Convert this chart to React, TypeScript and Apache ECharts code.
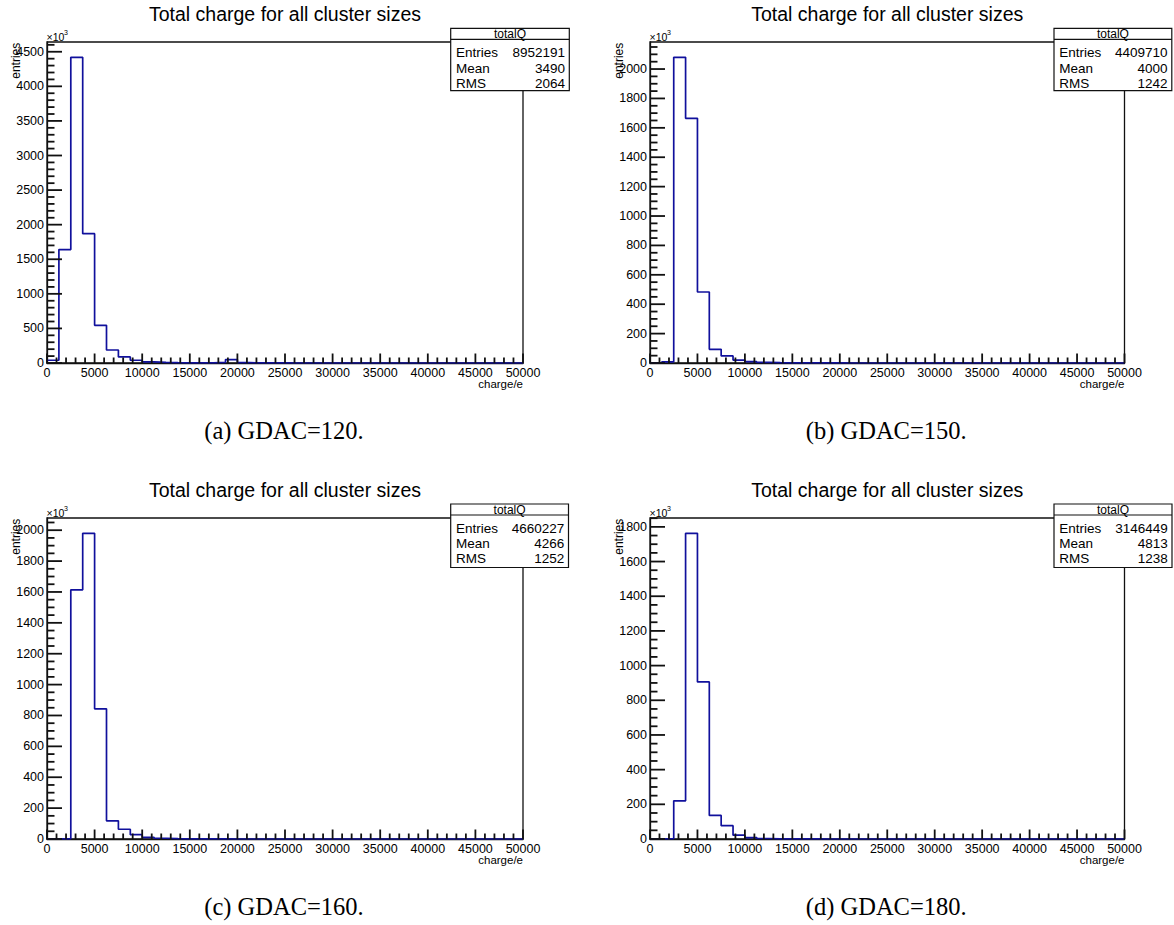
import React, { useEffect, useRef } from "react";
import * as echarts from "echarts";

// ---- data (entries per bin, in units of 10^3) ----
const binWidth = 1250;
const xMin = 0;
const xMax = 50000;
const xInterval = 5000;
const xMinorStep = 1000;

const countsGdac120 = [40, 1640, 4420, 1870, 545, 188, 88, 40, 16, 8, 5, 3, 2, 2, 8, 50, 5, 1, 0.5, 0.5, 0, 0, 0, 0, 0, 0, 0, 0, 0, 0, 0, 0, 0, 0, 0, 0, 0, 0, 0, 0];
const countsGdac150 = [1, 8, 2080, 1665, 483, 93, 48, 20, 9, 4, 2, 1, 0.5, 0.5, 0.3, 0.2, 0.1, 0, 0, 0, 0, 0, 0, 0, 0, 0, 0, 0, 0, 0, 0, 0, 0, 0, 0, 0, 0, 0, 0, 0];
const countsGdac160 = [0.5, 0.5, 1614, 1980, 843, 118, 63, 28, 11, 5, 2, 1, 0.5, 0.3, 0.2, 0.1, 0, 0, 0, 0, 0, 0, 0, 0, 0, 0, 0, 0, 0, 0, 0, 0, 0, 0, 0, 0, 0, 0, 0, 0];
const countsGdac180 = [1, 2, 220, 1763, 906, 136, 77, 22, 8, 3, 1, 0.5, 0.3, 0.2, 0.1, 0, 0, 0, 0, 0, 0, 0, 0, 0, 0, 0, 0, 0, 0, 0, 0, 0, 0, 0, 0, 0, 0, 0, 0, 0];

const panelCounts = [countsGdac120, countsGdac150, countsGdac160, countsGdac180];
const panelTitle = "Total charge for all cluster sizes";
const captions = ["(a) GDAC=120.", "(b) GDAC=150.", "(c) GDAC=160.", "(d) GDAC=180."];
const statName = "totalQ";
const statLabels = ["Entries", "Mean", "RMS"];
const entries = [8952191, 4409710, 4660227, 3146449];
const means = [3490, 4000, 4266, 4813];
const rmsValues = [2064, 1242, 1252, 1238];
const yIntervals = [500, 200, 200, 200];
const yMinorSteps = [100, 50, 50, 50];
const xAxisTitle = "charge/e";
const yAxisTitle = "entries";

// ---- layout (pixels) ----
const plots = [
  { left: 47, top: 42, width: 476, height: 321 },
  { left: 650, top: 42, width: 474.5, height: 321 },
  { left: 47, top: 518, width: 476, height: 321 },
  { left: 650, top: 518, width: 474.5, height: 321 },
];
const statBoxes = [
  { x: 450.7, y: 28.4, w: 118.6, h: 62.3 },
  { x: 1054, y: 28.4, w: 117.8, h: 62.3 },
  { x: 450.7, y: 504, w: 117.8, h: 63.5 },
  { x: 1054, y: 504, w: 118, h: 63.5 },
];

const sans = "Liberation Sans, Arial, Helvetica, sans-serif";
const serif = "Liberation Serif, Times New Roman, serif";
const histColor = "#10109c";
const frameColor = "#111111";

function stepData(counts: number[]) {
  const pts: number[][] = counts.map((c, i) => [xMin + i * binWidth, c]);
  pts.push([xMax, counts[counts.length - 1]]);
  return pts;
}

const yMaxOf = (counts: number[]) => Math.max(...counts) * 1.05;

function baseOption() {
  const grid: any[] = [];
  const xAxis: any[] = [];
  const yAxis: any[] = [];
  const series: any[] = [];

  plots.forEach((p, i) => {
    const counts = panelCounts[i];
    grid.push({
      left: p.left,
      top: p.top,
      width: p.width,
      height: p.height,
      show: true,
      borderColor: frameColor,
      borderWidth: 1.3,
      backgroundColor: "transparent",
    });
    xAxis.push({
      type: "value",
      gridIndex: i,
      min: xMin,
      max: xMax,
      interval: xInterval,
      axisLine: { show: true, onZero: false, lineStyle: { color: frameColor, width: 1.3 } },
      axisTick: { show: false },
      minorTick: { show: false },
      splitLine: { show: false },
      axisLabel: {
        color: "#000",
        fontSize: 12.5,
        fontFamily: sans,
        margin: 3,
        showMinLabel: true,
        showMaxLabel: true,
        formatter: (v: number) => String(v),
      },
    });
    yAxis.push({
      type: "value",
      gridIndex: i,
      min: 0,
      max: yMaxOf(counts),
      interval: yIntervals[i],
      axisLine: { show: true, onZero: false, lineStyle: { color: frameColor, width: 1.3 } },
      axisTick: { show: false },
      minorTick: { show: false },
      splitLine: { show: false },
      axisLabel: {
        color: "#000",
        fontSize: 12.5,
        fontFamily: sans,
        margin: 3,
        showMinLabel: true,
        showMaxLabel: false,
        formatter: (v: number) => String(v),
      },
    });
    series.push({
      type: "line",
      xAxisIndex: i,
      yAxisIndex: i,
      data: stepData(counts),
      step: "end",
      symbol: "none",
      clip: true,
      lineStyle: { color: histColor, width: 1.7 },
    });
  });

  return { animation: false, backgroundColor: "#fff", grid, xAxis, yAxis, series };
}

function toPixel(chart: any, i: number, x: number, y: number, yMax: number): number[] {
  let pt: any = null;
  try {
    pt = chart.convertToPixel({ xAxisIndex: i, yAxisIndex: i }, [x, y]);
  } catch (e) {
    pt = null;
  }
  if (!pt || !isFinite(pt[0]) || !isFinite(pt[1])) {
    const p = plots[i];
    pt = [p.left + ((x - xMin) / (xMax - xMin)) * p.width, p.top + p.height - (y / yMax) * p.height];
  }
  return pt;
}

function buildGraphics(chart: any) {
  const graphic: any[] = [];
  plots.forEach((p, i) => {
    const counts = panelCounts[i];
    const yMax = yMaxOf(counts);
    const right = p.left + p.width;
    const cx = p.left + p.width / 2;

    // inward ticks, positioned through the axis scales
    for (let v = xMin; v <= xMax; v += xMinorStep) {
      const pt = toPixel(chart, i, v, 0, yMax);
      const len = v % xInterval === 0 ? 9.5 : 5.5;
      graphic.push({
        type: "line",
        silent: true,
        z: 50,
        shape: { x1: pt[0], y1: pt[1], x2: pt[0], y2: pt[1] - len },
        style: { stroke: frameColor, lineWidth: 1.8 },
      });
    }
    for (let v = 0; v <= yMax; v += yMinorSteps[i]) {
      const pt = toPixel(chart, i, xMin, v, yMax);
      const len = v % yIntervals[i] === 0 ? 15 : 7.5;
      graphic.push({
        type: "line",
        silent: true,
        z: 50,
        shape: { x1: pt[0], y1: pt[1], x2: pt[0] + len, y2: pt[1] },
        style: { stroke: frameColor, lineWidth: 1.8 },
      });
    }

    // title
    graphic.push({
      type: "text",
      x: cx,
      y: p.top - 28.3,
      style: { text: panelTitle, font: `19.5px ${sans}`, fill: "#000", align: "center", verticalAlign: "middle" },
    });
    // x10^3
    graphic.push({
      type: "text",
      x: p.left - 0.5,
      y: p.top - 5.5,
      style: { text: "×10", font: `10.5px ${sans}`, fill: "#000", align: "left", verticalAlign: "middle" },
    });
    graphic.push({
      type: "text",
      x: p.left + 17,
      y: p.top - 9.5,
      style: { text: "3", font: `7px ${sans}`, fill: "#000", align: "left", verticalAlign: "middle" },
    });
    // y-axis title
    graphic.push({
      type: "text",
      x: p.left - 31.5,
      y: p.top + 0.7,
      rotation: Math.PI / 2,
      style: { text: yAxisTitle, font: `12px ${sans}`, fill: "#000", align: "right", verticalAlign: "middle" },
    });
    // x-axis title
    graphic.push({
      type: "text",
      x: right,
      y: p.top + p.height + 21,
      style: { text: xAxisTitle, font: `11.5px ${sans}`, fill: "#000", align: "right", verticalAlign: "middle" },
    });
    // stats box
    const b = statBoxes[i];
    graphic.push({
      type: "rect",
      z: 100,
      shape: { x: b.x, y: b.y, width: b.w, height: b.h },
      style: { fill: "#fff", stroke: frameColor, lineWidth: 1.2 },
    });
    graphic.push({
      type: "line",
      z: 101,
      shape: { x1: b.x, y1: b.y + 11, x2: b.x + b.w, y2: b.y + 11 },
      style: { stroke: frameColor, lineWidth: 1.2 },
    });
    graphic.push({
      type: "text",
      z: 101,
      x: b.x + b.w / 2,
      y: b.y + 5.6,
      style: { text: statName, font: `12px ${sans}`, fill: "#000", align: "center", verticalAlign: "middle" },
    });
    const vals = [String(entries[i]), String(means[i]), String(rmsValues[i])];
    statLabels.forEach((lab, k) => {
      const yy = b.y + 24.3 + k * 15.3;
      graphic.push({
        type: "text",
        z: 101,
        x: b.x + 5.3,
        y: yy,
        style: { text: lab, font: `13.5px ${sans}`, fill: "#000", align: "left", verticalAlign: "middle" },
      });
      graphic.push({
        type: "text",
        z: 101,
        x: b.x + b.w - 4.3,
        y: yy,
        style: { text: vals[k], font: `13.5px ${sans}`, fill: "#000", align: "right", verticalAlign: "middle" },
      });
    });
    // caption
    graphic.push({
      type: "text",
      x: cx - 1,
      y: p.top + 388,
      style: { text: captions[i], font: `24.5px ${serif}`, fill: "#000", align: "center", verticalAlign: "middle" },
    });
  });
  return graphic;
}

export default function App() {
  const ref = useRef<HTMLDivElement>(null);
  useEffect(() => {
    if (!ref.current) return;
    const chart = echarts.init(ref.current, undefined, { renderer: "svg" });
    chart.setOption(baseOption() as any);
    chart.setOption({ graphic: buildGraphics(chart) } as any);
    return () => chart.dispose();
  }, []);
  return (
    <div
      ref={ref}
      style={{ position: "absolute", left: 0, top: 0, width: 1174, height: 925 }}
    />
  );
}
